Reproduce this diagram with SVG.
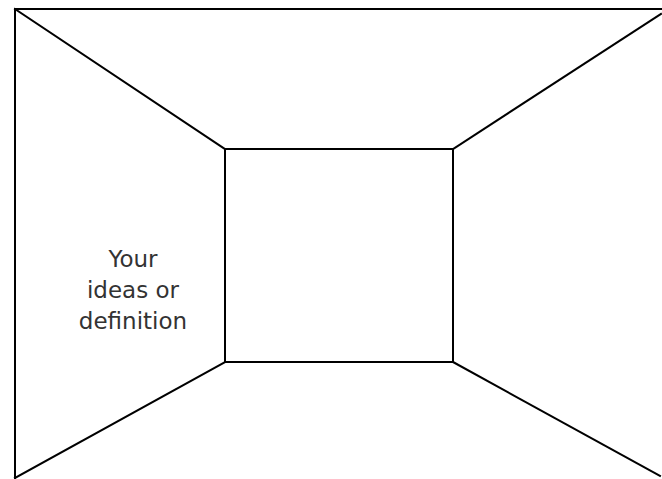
<svg xmlns="http://www.w3.org/2000/svg" width="662" height="479" viewBox="0 0 662 479">
<style>
.ln{stroke:#000;stroke-width:2;fill:none;stroke-linecap:square}
.t{font-family:"DejaVu Sans","Liberation Sans",sans-serif;font-size:23px;fill:#333;text-anchor:middle}
</style>
<rect width="662" height="479" fill="#fff"/>
<g id="connectors">
<path class="ln" d="M15,478 L15,9 L662,9"/>
<path class="ln" d="M15,9 L225,149"/>
<path class="ln" d="M453,149 L661,14"/>
<path class="ln" d="M225,362 L15,478"/>
<path class="ln" d="M453,362 L660,476"/>
</g>
<g id="back-wall">
<rect class="ln" x="225" y="149" width="228" height="213"/>
</g>
<g id="left-wall-label">
<text class="t" x="133" y="267">Your</text>
<text class="t" x="133" y="298">ideas or</text>
<text class="t" x="133" y="329">definition</text>
</g>
</svg>
